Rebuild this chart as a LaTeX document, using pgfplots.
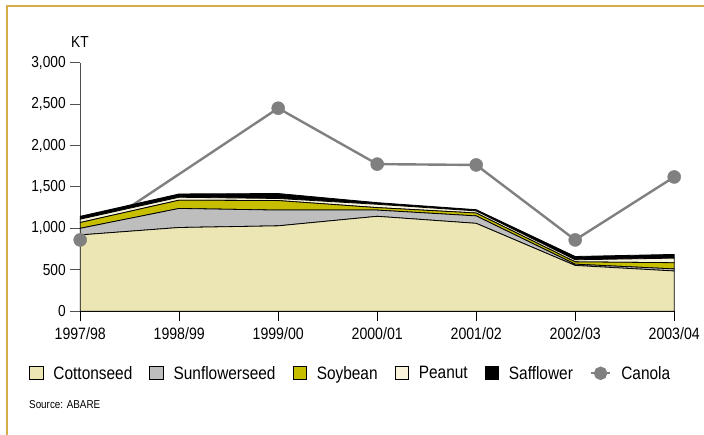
\documentclass[border=0pt]{standalone}
\usepackage{fontspec}
\setmainfont{Liberation Sans}[FakeStretch=0.86]
\usepackage{pgfplots}
\pgfplotsset{compat=1.18}

\definecolor{cotton}{RGB}{235,230,180}
\definecolor{sunflower}{RGB}{190,190,190}
\definecolor{soy}{RGB}{200,190,0}
\definecolor{peanut}{RGB}{248,244,220}
\definecolor{canola}{RGB}{128,128,128}
\definecolor{frame}{RGB}{214,172,72}
\definecolor{yaxis}{RGB}{80,80,80}

\begin{document}
\begin{tikzpicture}[x=1bp,y=1bp]
\useasboundingbox (0,0) rectangle (704,435);
% page frame
\draw[frame, line width=1.4bp] (704,429) -- (7,429) -- (7,0);

\begin{axis}[
  at={(81,149.5)}, anchor=south west,
  scale only axis, width=594bp, height=248.5bp,
  xmin=0, xmax=6, ymin=0, ymax=3000,
  axis x line*=bottom, axis y line*=left,
  x axis line style={black, line width=1.3bp},
  y axis line style={yaxis, line width=1.3bp},
  xtick={0,...,6},
  xticklabels={1997/98,1998/99,1999/00,2000/01,2001/02,2002/03,2003/04},
  ytick={0,500,...,3000},
  tick align=outside, major tick length=10bp,
  x tick style={black, line width=1bp},
  y tick style={yaxis, line width=1bp},
  /pgf/number format/assume math mode=true,
  /pgf/number format/1000 sep={,},
  yticklabel style={font=\fontsize{16}{17}\selectfont, xshift=-1bp},
  xticklabel style={font=\fontsize{16.5}{17}\selectfont, yshift=-3bp},
  stack plots=y,
  legend columns=-1,
  legend style={at={(-0.086,-0.25)}, anchor=west, draw=none, fill=none,
    font=\fontsize{18}{19}\selectfont, inner sep=0pt,
    /tikz/every even column/.append style={column sep=15bp},
    /tikz/every odd column/.append style={column sep=8bp}},
  legend image code/.code={\draw[#1, line width=0.7bp] (0bp,-6.5bp) rectangle (13.5bp,7bp);},
  clip=false,
]
\addplot[fill=cotton, draw=black, line width=0.8bp] coordinates
  {(0,920) (1,1010) (2,1030) (3,1145) (4,1060) (5,552) (6,485)} \closedcycle;
\addlegendentry{Cottonseed}
\addplot[fill=sunflower, draw=black, line width=0.8bp] coordinates
  {(0,80) (1,230) (2,190) (3,75) (4,90) (5,15) (6,25)} \closedcycle;
\addlegendentry{Sunflowerseed}
\addplot[fill=soy, draw=black, line width=0.8bp] coordinates
  {(0,70) (1,100) (2,115) (3,30) (4,35) (5,28) (6,75)} \closedcycle;
\addlegendentry{Soybean}
\addplot[fill=peanut, draw=black, line width=0.8bp] coordinates
  {(0,40) (1,35) (2,25) (3,40) (4,25) (5,25) (6,55)} \closedcycle;
\addlegendentry{Peanut}
\addplot[fill=black, draw=black, line width=0.8bp] coordinates
  {(0,35) (1,40) (2,60) (3,20) (4,15) (5,40) (6,45)} \closedcycle;
\addlegendentry{Safflower}
\addplot[stack plots=false, canola, line width=2.4bp, mark=*,
  mark size=6.5bp, mark options={fill=canola, draw=canola, line width=0.5bp},
  legend image code/.code={
    \draw[canola, line width=2.4bp] (0bp,0bp) -- (19bp,0bp);
    \fill[canola] (9.5bp,0bp) circle (5.5bp);}]
  coordinates {(0,860) (2,2450) (3,1775) (4,1765) (5,860) (6,1620)};
\addlegendentry{Canola}
\end{axis}

\node[font=\fontsize{16}{17}\selectfont] at (80,393) {KT};
\node[anchor=west, font=\fontsize{11.5}{12}\selectfont, inner sep=0pt] at (29,30) {Source: ABARE};
\end{tikzpicture}
\end{document}
